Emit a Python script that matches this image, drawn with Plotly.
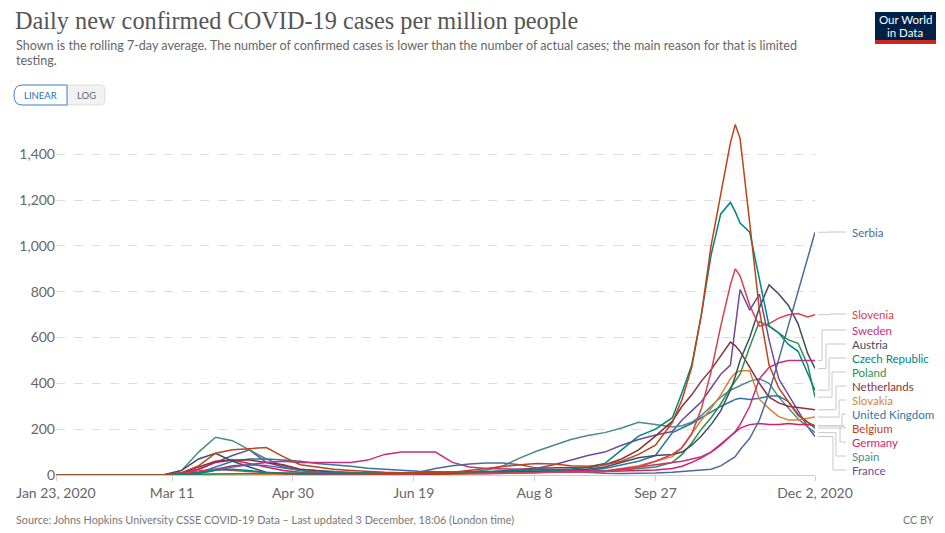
import plotly.graph_objects as go

# ---------------- data ----------------
dates = [
    "2020-01-23", "2020-02-23", "2020-03-01", "2020-03-08", "2020-03-15", "2020-03-22", "2020-03-29",
    "2020-04-05", "2020-04-12", "2020-04-19", "2020-04-26", "2020-05-03", "2020-05-10", "2020-05-17",
    "2020-05-24", "2020-05-31", "2020-06-07", "2020-06-14", "2020-06-21", "2020-06-28", "2020-07-05",
    "2020-07-12", "2020-07-19", "2020-07-26", "2020-08-02", "2020-08-09", "2020-08-16", "2020-08-23",
    "2020-08-30", "2020-09-06", "2020-09-13", "2020-09-20", "2020-09-27", "2020-10-04", "2020-10-08",
    "2020-10-12", "2020-10-16", "2020-10-20", "2020-10-24", "2020-10-28", "2020-10-30", "2020-11-01",
    "2020-11-05", "2020-11-09", "2020-11-13", "2020-11-17", "2020-11-21", "2020-11-25", "2020-11-29",
    "2020-12-02",
]

serbia = [0, 0, 0, 0, 1, 5, 20, 35, 45, 42, 30, 20, 12, 9, 7, 5, 8, 10, 12, 28, 40, 48, 52, 52, 45,
          30, 20, 15, 10, 8, 7, 7, 9, 12, 15, 18, 22, 25, 40, 65, 80, 110, 160, 240, 360, 505, 650,
          800, 950, 1060]
slovenia = [0, 0, 0, 0, 5, 18, 25, 20, 12, 8, 5, 3, 2, 2, 2, 2, 2, 3, 5, 10, 12, 10, 8, 8, 10, 12,
            12, 12, 12, 15, 20, 35, 60, 90, 120, 180, 290, 450, 650, 830, 900, 870, 740, 650, 660,
            685, 700, 705, 690, 700]
sweden = [0, 0, 0, 2, 8, 12, 25, 40, 45, 55, 60, 55, 55, 55, 55, 65, 90, 100, 100, 100, 55, 35, 28,
          25, 25, 25, 22, 20, 18, 18, 25, 35, 45, 55, 60, 70, 80, 100, 130, 170, 190, 220, 300, 420,
          470, 490, 500, 500, 500, 500]
austria = [0, 0, 0, 2, 20, 70, 95, 60, 35, 12, 7, 5, 4, 4, 5, 5, 4, 4, 5, 8, 10, 12, 13, 15, 15, 16,
           18, 22, 25, 35, 55, 75, 85, 90, 100, 130, 170, 220, 280, 370, 430, 500, 600, 730, 830,
           790, 740, 660, 530, 465]
czechia = [0, 0, 0, 0, 2, 10, 22, 25, 20, 10, 7, 5, 5, 5, 5, 5, 6, 6, 8, 12, 12, 15, 15, 17, 20, 22,
           22, 25, 35, 50, 110, 170, 200, 250, 360, 480, 700, 960, 1140, 1190, 1150, 1100, 1060,
           860, 650, 620, 570, 540, 440, 370]
poland = [0, 0, 0, 0, 1, 2, 4, 6, 7, 8, 9, 9, 9, 9, 9, 9, 10, 12, 11, 9, 8, 8, 9, 11, 14, 17, 18, 17,
          16, 18, 22, 27, 35, 55, 90, 140, 200, 250, 310, 380, 410, 440, 560, 670, 650, 620, 590,
          575, 480, 340]
netherlands = [0, 0, 0, 1, 10, 35, 60, 65, 65, 55, 45, 25, 18, 12, 10, 8, 7, 5, 4, 4, 5, 8, 12, 20,
               25, 30, 33, 33, 32, 45, 70, 110, 170, 235, 300, 350, 410, 460, 520, 580, 565, 540,
               470, 400, 340, 315, 300, 295, 290, 285]
slovakia = [0, 0, 0, 0, 1, 2, 4, 5, 4, 3, 2, 1, 1, 1, 1, 1, 1, 2, 3, 3, 4, 6, 8, 10, 10, 12, 12, 12,
            12, 18, 30, 40, 60, 80, 120, 180, 240, 290, 350, 420, 445, 455, 455, 330, 290, 255, 240,
            240, 248, 253]
uk = [0, 0, 0, 0, 1, 10, 35, 60, 70, 70, 65, 60, 50, 45, 38, 30, 25, 20, 16, 14, 10, 9, 10, 10, 11,
      12, 15, 17, 20, 28, 45, 60, 85, 185, 205, 225, 250, 275, 300, 320, 330, 335, 330, 335, 345,
      345, 320, 265, 230, 205]
belgium = [0, 0, 0, 1, 10, 40, 95, 110, 115, 120, 80, 45, 35, 25, 20, 15, 12, 10, 9, 10, 12, 20, 28,
           38, 45, 50, 48, 40, 38, 45, 60, 90, 130, 230, 330, 470, 700, 1000, 1230, 1450, 1530,
           1470, 1100, 720, 480, 380, 320, 260, 230, 215]
germany = [0, 0, 0, 0, 5, 25, 55, 65, 50, 35, 20, 12, 10, 8, 6, 5, 4, 4, 5, 5, 5, 5, 5, 6, 7, 10, 13,
           15, 15, 15, 17, 20, 22, 28, 38, 55, 75, 100, 135, 170, 190, 205, 220, 225, 220, 220, 225,
           220, 220, 215]
spain = [0, 0, 0, 1, 20, 100, 165, 150, 110, 70, 40, 25, 20, 15, 10, 8, 7, 6, 6, 7, 8, 12, 22, 40,
         75, 105, 130, 155, 172, 185, 205, 230, 220, 210, 215, 230, 260, 300, 340, 370, 380, 390,
         410, 420, 400, 340, 290, 245, 210, 185]
france = [0, 0, 0, 1, 8, 25, 55, 85, 110, 55, 35, 20, 12, 8, 6, 5, 5, 5, 6, 7, 7, 10, 12, 15, 20, 30,
          45, 65, 85, 100, 130, 155, 175, 190, 240, 280, 320, 380, 440, 480, 650, 810, 720, 790,
          590, 420, 350, 280, 210, 168]

countries = ["Serbia", "Slovenia", "Sweden", "Austria", "Czech Republic", "Poland", "Netherlands",
             "Slovakia", "United Kingdom", "Belgium", "Germany", "Spain", "France"]
series = [serbia, slovenia, sweden, austria, czechia, poland, netherlands, slovakia, uk, belgium,
          germany, spain, france]
colors = ["#4C6A9C", "#D6404F", "#C42C85", "#3C4E66", "#00847E", "#2E8F45", "#883039", "#D4833A",
          "#2D76A3", "#BF4316", "#D81B6A", "#4B8A8A", "#6F4A9B"]

y_tickvals = [0, 200, 400, 600, 800, 1000, 1200, 1400]
y_ticktext = ["0", "200", "400", "600", "800", "1,000", "1,200", "1,400"]
x_tickvals = ["2020-01-23", "2020-03-11", "2020-04-30", "2020-06-19", "2020-08-08", "2020-09-27",
              "2020-12-02"]
x_ticktext = ["Jan 23, 2020", "Mar 11", "Apr 30", "Jun 19", "Aug 8", "Sep 27", "Dec 2, 2020"]

# ---------------- layout geometry ----------------
W, H = 945, 533
ML, MR, MT, MB = 56, 130, 120, 58
PW = W - ML - MR
PH = H - MT - MB
YMAX = 1550


def px(x):
    return (x - ML) / PW


def py(y):
    return (H - MB - y) / PH


fig = go.Figure()
draw_order = [12, 11, 10, 8, 7, 6, 5, 3, 2, 0, 1, 4, 9]
for i in draw_order:
    fig.add_trace(go.Scatter(
        x=dates, y=series[i], mode="lines", name=countries[i],
        line=dict(color=colors[i], width=1.5), hoverinfo="skip", showlegend=False,
    ))

annotations = []
shapes = []

# title / subtitle
annotations.append(dict(xref="paper", yref="paper", x=px(13), y=py(21), xanchor="left",
                        yanchor="middle", showarrow=False,
                        text="Daily new confirmed COVID-19 cases per million people",
                        font=dict(family="Liberation Serif", size=24.3, color="#555555")))
annotations.append(dict(xref="paper", yref="paper", x=px(14), y=py(45), xanchor="left",
                        yanchor="middle", showarrow=False,
                        text="Shown is the rolling 7-day average. The number of confirmed cases is lower than the number of actual cases; the main reason for that is limited",
                        font=dict(family="Lato", size=12.55, color="#666666")))
annotations.append(dict(xref="paper", yref="paper", x=px(14), y=py(60), xanchor="left",
                        yanchor="middle", showarrow=False, text="testing.",
                        font=dict(family="Lato", size=12.55, color="#666666")))

# LINEAR / LOG toggle
shapes.append(dict(type="path", xref="paper", yref="paper",
                   path=f"M {px(67)},{py(85)} L {px(100)},{py(85)} "
                        f"Q {px(105)},{py(85)} {px(105)},{py(90)} L {px(105)},{py(100)} "
                        f"Q {px(105)},{py(105)} {px(100)},{py(105)} L {px(67)},{py(105)} Z",
                   fillcolor="#f2f2f2", line=dict(color="#dddddd", width=1)))
shapes.append(dict(type="path", xref="paper", yref="paper",
                   path=f"M {px(22)},{py(85)} L {px(67)},{py(85)} L {px(67)},{py(105)} "
                        f"L {px(22)},{py(105)} Q {px(14)},{py(105)} {px(14)},{py(95)} "
                        f"Q {px(14)},{py(85)} {px(22)},{py(85)} Z",
                   fillcolor="#ffffff", line=dict(color="#3d7fc4", width=1)))
annotations.append(dict(xref="paper", yref="paper", x=px(40.5), y=py(95.5), xanchor="center",
                        yanchor="middle", showarrow=False, text="LINEAR",
                        font=dict(family="Lato", size=9.5, color="#2f6db3")))
annotations.append(dict(xref="paper", yref="paper", x=px(86), y=py(95.5), xanchor="center",
                        yanchor="middle", showarrow=False, text="LOG",
                        font=dict(family="Lato", size=9.5, color="#666666")))

# OWID logo
shapes.append(dict(type="rect", xref="paper", yref="paper", x0=px(875), x1=px(936), y0=py(12),
                   y1=py(44), fillcolor="#002147", line=dict(width=0)))
shapes.append(dict(type="rect", xref="paper", yref="paper", x0=px(875), x1=px(936), y0=py(40),
                   y1=py(44), fillcolor="#CE261E", line=dict(width=0)))
annotations.append(dict(xref="paper", yref="paper", x=px(905.5), y=py(20), xanchor="center",
                        yanchor="middle", showarrow=False, text="Our World",
                        font=dict(family="Lato", size=11.5, color="#ffffff")))
annotations.append(dict(xref="paper", yref="paper", x=px(905.5), y=py(32), xanchor="center",
                        yanchor="middle", showarrow=False, text="in Data",
                        font=dict(family="Lato", size=11.5, color="#ffffff")))

# footer
annotations.append(dict(xref="paper", yref="paper", x=px(14), y=py(519), xanchor="left",
                        yanchor="middle", showarrow=False,
                        text="Source: Johns Hopkins University CSSE COVID-19 Data – Last updated 3 December, 18:06 (London time)",
                        font=dict(family="Lato", size=10.8, color="#777777")))
annotations.append(dict(xref="paper", yref="paper", x=px(936), y=py(519), xanchor="right",
                        yanchor="middle", showarrow=False, text="CC BY",
                        font=dict(family="Lato", size=10.8, color="#777777")))

# right-hand labels with leader lines
label_py = [232, 314, 330, 344, 358, 372, 386, 400, 414, 428, 442, 456, 470]
elbow_px = [830, 830, 822, 826, 829, 832, 836, 839, 842, 844, 840, 836, 833]
for i, name in enumerate(countries):
    end_y = series[i][-1] / YMAX
    lab_y = py(label_py[i])
    shapes.append(dict(type="path", xref="paper", yref="paper",
                       path=f"M {px(818)},{end_y} L {px(elbow_px[i])},{end_y} "
                            f"L {px(elbow_px[i])},{lab_y} L {px(846)},{lab_y}",
                       line=dict(color="#c8c8c8", width=1)))
    annotations.append(dict(xref="paper", yref="paper", x=px(850), y=lab_y, xanchor="left",
                            yanchor="middle", showarrow=False, text=name,
                            font=dict(family="Lato", size=11.5, color=colors[i])))

fig.update_layout(
    width=W, height=H,
    margin=dict(l=ML, r=MR, t=MT, b=MB, pad=0),
    paper_bgcolor="#ffffff", plot_bgcolor="#ffffff",
    hovermode=False,
    showlegend=False,
    annotations=annotations,
    shapes=shapes,
    xaxis=dict(
        type="date", range=["2020-01-23", "2020-12-02"],
        tickvals=x_tickvals, ticktext=x_ticktext,
        showgrid=False, zeroline=False,
        showline=True, linecolor="#cccccc", linewidth=1,
        ticks="outside", ticklen=5, tickcolor="#cccccc",
        tickfont=dict(family="Lato", size=14, color="#666666"),
    ),
    yaxis=dict(
        range=[0, YMAX],
        tickvals=y_tickvals, ticktext=y_ticktext,
        showgrid=True, gridcolor="#dddddd", griddash="dash", gridwidth=1,
        zeroline=False, showline=False, ticks="",
        tickfont=dict(family="Lato", size=14, color="#666666"),
    ),
)

fig.write_html("out.html", config={"displayModeBar": False},
               post_script="document.body.style.margin='0px';document.body.style.padding='0px';")
